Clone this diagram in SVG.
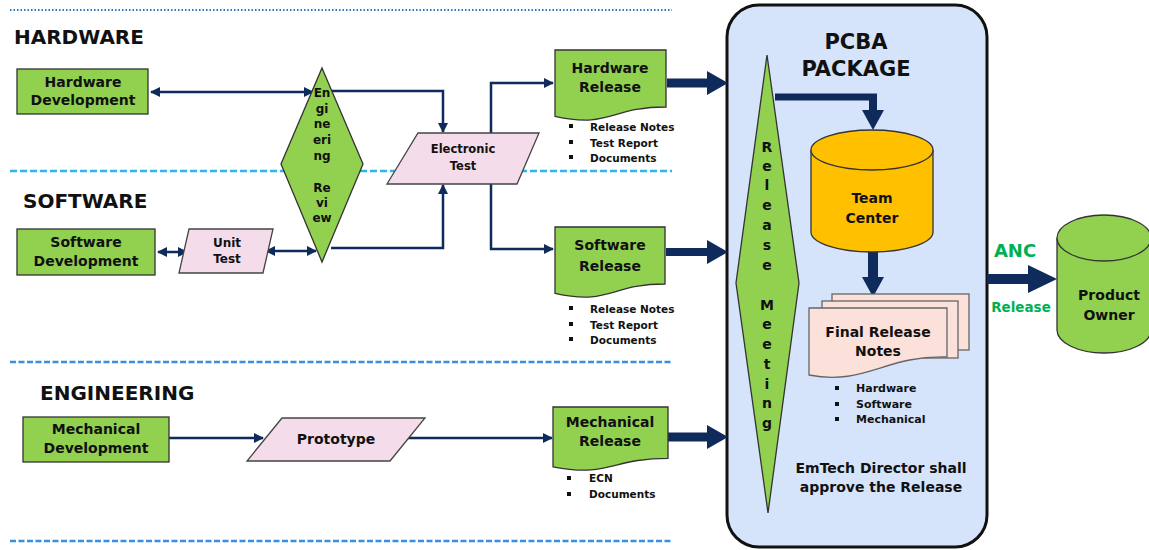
<svg xmlns="http://www.w3.org/2000/svg" width="1149" height="550" viewBox="0 0 1149 550">
<defs>
<style>
text{font-family:"DejaVu Sans","Liberation Sans",sans-serif;font-weight:bold;fill:#111;}
.c{text-anchor:middle;}
.title{font-size:20px;}
.n14{font-size:14px;}
.n11{font-size:11.5px;}
.er{font-size:12px;}
.b{font-size:10.5px;}
.rm{font-size:14px;}
.green{fill:#92d050;stroke:#333;stroke-width:1.3;}
.pink{fill:#f4dcea;stroke:#444;stroke-width:1.3;}
.paper{fill:#fce0da;stroke:#666;stroke-width:1.3;}
.conn{fill:none;stroke:#0f2b5b;stroke-width:2.5;}
.thick{fill:#0f2b5b;stroke:none;}
.sq{fill:#111;}
</style>
<marker id="ah" viewBox="0 0 10 10" refX="9" refY="5" markerWidth="4" markerHeight="4" orient="auto-start-reverse">
<path d="M0,0 L10,5 L0,10 z" fill="#0f2b5b"/>
</marker>
</defs>
<rect width="1149" height="550" fill="#fff"/>

<g id="lanes">
<line x1="10" y1="10" x2="672" y2="10" stroke="#2e75b6" stroke-width="2" stroke-dasharray="1.5 2"/>
<line x1="10" y1="171" x2="672" y2="171" stroke="#2fb4ee" stroke-width="2.5" stroke-dasharray="7 3"/>
<line x1="10" y1="362" x2="672" y2="362" stroke="#3b8fe0" stroke-width="2.5" stroke-dasharray="6 2.5"/>
<line x1="10" y1="541" x2="672" y2="541" stroke="#3b8fe0" stroke-width="2.5" stroke-dasharray="6 2.5"/>
<text class="title" x="14" y="44">HARDWARE</text>
<text class="title" x="23" y="208">SOFTWARE</text>
<text class="title" x="40" y="400">ENGINEERING</text>
</g>

<g id="pcba">
<rect x="727" y="5" width="260" height="542" rx="32" fill="#d6e4fb" stroke="#111" stroke-width="3"/>
<text class="c" x="856" y="49" style="font-size:21px">PCBA</text>
<text class="c" x="856" y="76" style="font-size:21px">PACKAGE</text>
<text class="c n14" x="881" y="473">EmTech Director shall</text>
<text class="c n14" x="881" y="492">approve the Release</text>
</g>

<g id="connectors">
<line class="conn" x1="151" y1="92" x2="313" y2="92" marker-start="url(#ah)" marker-end="url(#ah)"/>
<path class="conn" d="M332,91 H443 V132" marker-end="url(#ah)"/>
<path class="conn" d="M331,248 H443 V185" marker-end="url(#ah)"/>
<line class="conn" x1="158" y1="252" x2="187" y2="252" marker-start="url(#ah)" marker-end="url(#ah)"/>
<line class="conn" x1="266" y1="251" x2="316" y2="251" marker-start="url(#ah)" marker-end="url(#ah)"/>
<path class="conn" d="M491,133 V83 H553" marker-end="url(#ah)"/>
<path class="conn" d="M491,184 V249 H553" marker-end="url(#ah)"/>
<line class="conn" x1="169" y1="438" x2="263" y2="438" marker-end="url(#ah)"/>
<line class="conn" x1="406" y1="438" x2="552" y2="438" marker-end="url(#ah)"/>
<path class="thick" d="M667,78.5 H707 V71 L728,83 L707,95 V87.5 H667 Z"/>
<path class="thick" d="M666,248 H707 V240 L728,252 L707,264 V256 H666 Z"/>
<path class="thick" d="M668,432.5 H707 V425 L728,437 L707,449 V441.5 H668 Z"/>
<path class="thick" d="M775,93.5 H877 V110 H884 L873,130 L862,110 H869 V100.5 H775 Z"/>
<path class="thick" d="M868,252 H878 V277 H884 L873,297 L862,277 H868 Z"/>
<path class="thick" d="M987,274 H1028 V265 L1057,279 L1028,293 V284 H987 Z"/>
<text class="c" x="1015" y="257" style="font-size:18px;fill:#00b050">ANC</text>
<text class="c" x="1021" y="312" style="font-size:13.5px;fill:#00b050">Release</text>
</g>

<g id="hardware-development">
<rect class="green" x="17" y="69" width="131" height="45"/>
<text class="c n14" x="83" y="87">Hardware</text>
<text class="c n14" x="83" y="105">Development</text>
</g>

<g id="software-development">
<rect class="green" x="17" y="229" width="138" height="46"/>
<text class="c n14" x="86" y="247">Software</text>
<text class="c n14" x="86" y="266">Development</text>
</g>

<g id="unit-test">
<polygon class="pink" points="189,229 273,229 263,273 179,273"/>
<text class="c er" x="227" y="247">Unit</text>
<text class="c er" x="227" y="263">Test</text>
</g>

<g id="engineering-review">
<polygon class="green" points="322,68 363,164 322,262 281,164"/>
<text class="c er" x="322" y="97">En</text>
<text class="c er" x="322" y="113">gi</text>
<text class="c er" x="322" y="128">ne</text>
<text class="c er" x="322" y="144">eri</text>
<text class="c er" x="322" y="160">ng</text>
<text class="c er" x="322" y="192">Re</text>
<text class="c er" x="322" y="207">vi</text>
<text class="c er" x="322" y="222">ew</text>
</g>

<g id="electronic-test">
<polygon class="pink" points="418,133 539,133 517,184 387,184"/>
<text class="c n11" x="463" y="153">Electronic</text>
<text class="c n11" x="463" y="170">Test</text>
</g>

<g id="hardware-release">
<path class="green" d="M555,50 H666 V107 C610,107 610,128.6 555,116.3 Z"/>
<text class="c n14" x="610" y="73">Hardware</text>
<text class="c n14" x="610" y="92">Release</text>
<rect class="sq" x="569" y="124" width="4" height="4"/>
<rect class="sq" x="569" y="140" width="4" height="4"/>
<rect class="sq" x="569" y="155" width="4" height="4"/>
<text class="b" x="590" y="131">Release Notes</text>
<text class="b" x="590" y="147">Test Report</text>
<text class="b" x="590" y="162">Documents</text>
</g>

<g id="software-release">
<path class="green" d="M555,227 H665 V284 C610,284 610,305.6 555,293.3 Z"/>
<text class="c n14" x="610" y="250">Software</text>
<text class="c n14" x="610" y="271">Release</text>
<rect class="sq" x="569" y="306" width="4" height="4"/>
<rect class="sq" x="569" y="322" width="4" height="4"/>
<rect class="sq" x="569" y="337" width="4" height="4"/>
<text class="b" x="590" y="313">Release Notes</text>
<text class="b" x="590" y="329">Test Report</text>
<text class="b" x="590" y="344">Documents</text>
</g>

<g id="mechanical-development">
<rect class="green" x="23" y="417" width="146" height="45"/>
<text class="c n14" x="96" y="434">Mechanical</text>
<text class="c n14" x="96" y="453">Development</text>
</g>

<g id="prototype">
<polygon class="pink" points="282,418 425,418 390,461 247,461"/>
<text class="c n14" x="336" y="444">Prototype</text>
</g>

<g id="mechanical-release">
<path class="green" d="M553,407 H668 V458.3 C610.5,458.3 610.5,477.8 553,466.8 Z"/>
<text class="c n14" x="610" y="427">Mechanical</text>
<text class="c n14" x="610" y="446">Release</text>
<rect class="sq" x="567" y="476" width="4" height="4"/>
<rect class="sq" x="567" y="492" width="4" height="4"/>
<text class="b" x="589" y="482">ECN</text>
<text class="b" x="589" y="498">Documents</text>
</g>

<g id="release-meeting">
<polygon class="green" points="767,55 799,283 768,513 736,283"/>
<text class="c rm" x="767" y="152">R</text>
<text class="c rm" x="767" y="171">e</text>
<text class="c rm" x="767" y="190">l</text>
<text class="c rm" x="767" y="210">e</text>
<text class="c rm" x="767" y="230">a</text>
<text class="c rm" x="767" y="250">s</text>
<text class="c rm" x="767" y="270">e</text>
<text class="c rm" x="767" y="310">M</text>
<text class="c rm" x="767" y="329">e</text>
<text class="c rm" x="767" y="349">e</text>
<text class="c rm" x="767" y="369">t</text>
<text class="c rm" x="767" y="389">i</text>
<text class="c rm" x="767" y="408">n</text>
<text class="c rm" x="767" y="428">g</text>
</g>

<g id="team-center">
<path d="M811,150 V232 A61,20 0 0 0 933,232 V150" fill="#ffc000" stroke="#333" stroke-width="1.3"/>
<ellipse cx="872" cy="150" rx="61" ry="20" fill="#ffc000" stroke="#333" stroke-width="1.3"/>
<text class="c n14" x="872" y="203">Team</text>
<text class="c n14" x="872" y="223">Center</text>
</g>

<g id="final-release-notes">
<rect class="paper" x="832" y="294" width="137" height="56"/>
<rect class="paper" x="822" y="301" width="136" height="57"/>
<path class="paper" d="M809,308 H947 V357 C885,355 865,386 809,375 Z"/>
<text class="c n14" x="878" y="337">Final Release</text>
<text class="c n14" x="878" y="356">Notes</text>
<rect class="sq" x="835" y="386" width="4" height="4"/>
<rect class="sq" x="835" y="402" width="4" height="4"/>
<rect class="sq" x="835" y="417" width="4" height="4"/>
<text style="font-size:11px" x="856" y="392">Hardware</text>
<text style="font-size:11px" x="856" y="408">Software</text>
<text style="font-size:11px" x="856" y="423">Mechanical</text>
</g>

<g id="product-owner">
<path d="M1057,238 V330 A47,23 0 0 0 1151,330 V238" fill="#92d050" stroke="#333" stroke-width="1.3"/>
<ellipse cx="1104" cy="238" rx="47" ry="23" fill="#92d050" stroke="#333" stroke-width="1.3"/>
<text class="c n14" x="1109" y="300">Product</text>
<text class="c n14" x="1109" y="320">Owner</text>
</g>
</svg>
